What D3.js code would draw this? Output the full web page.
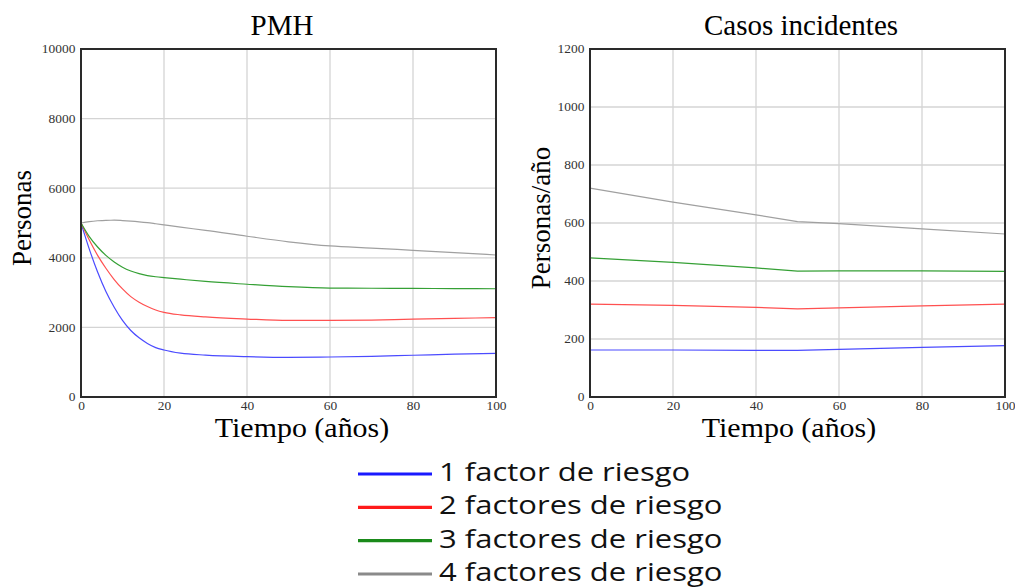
<!DOCTYPE html>
<html>
<head>
<meta charset="utf-8">
<script src="https://cdn.jsdelivr.net/npm/d3@7"></script>
<style>
  body { margin: 0; background: #fff; }
  svg { display: block; }
</style>
</head>
<body>
<svg id="chart" width="1015" height="588"></svg>
<script>
// PMH (left) - shared time points
const pmhYears = [0, 2, 4, 6, 8, 10, 12, 14, 16, 18, 20, 24, 30, 40, 50, 60, 70, 80, 90, 100];
const pmh1 = [5000, 4250, 3590, 3030, 2580, 2200, 1910, 1700, 1540, 1420, 1350, 1260, 1205, 1160, 1140, 1150, 1170, 1200, 1230, 1255];
const pmh2 = [5000, 4510, 4070, 3700, 3375, 3105, 2885, 2725, 2600, 2500, 2433, 2360, 2300, 2240, 2200, 2200, 2210, 2240, 2260, 2280];
const pmh3 = [5000, 4610, 4310, 4070, 3880, 3730, 3622, 3545, 3490, 3455, 3430, 3385, 3320, 3240, 3170, 3130, 3125, 3120, 3115, 3110];
const pmh4 = [5000, 5040, 5065, 5078, 5080, 5070, 5055, 5035, 5010, 4978, 4945, 4880, 4790, 4620, 4460, 4340, 4280, 4215, 4150, 4080];

// Casos incidentes (right)
const casYears = [0, 20, 40, 50, 60, 80, 100];
const cas1 = [162, 162, 161, 161, 164, 171, 177];
const cas2 = [320, 316, 309, 304, 307, 314, 320];
const cas3 = [480, 464, 445, 434, 435, 435, 433];
const cas4 = [720, 672, 628, 605, 598, 580, 562];

const seriesNames = ['1 factor de riesgo', '2 factores de riesgo', '3 factores de riesgo', '4 factores de riesgo'];
const lineColors = ['#4b4bff', '#ff5050', '#35a035', '#a0a0a0'];
const legendColors = ['#1a1aff', '#ff1a1a', '#1a8a1a', '#8a8a8a'];

const xTicks = [0, 20, 40, 60, 80, 100];
const pmhTicks = [0, 2000, 4000, 6000, 8000, 10000];
const casTicks = [0, 200, 400, 600, 800, 1000, 1200];

const svg = d3.select('#chart');
const serif = '"Liberation Serif", "Times New Roman", serif';

function makePanel(p) {
  const top = 49;
  const bottom = 397;
  const { left, right } = p;

  const x = d3.scaleLinear().domain([0, 100]).range([left, right]);
  const y = d3.scaleLinear().domain([0, p.yMax]).range([bottom, top]);

  const g = svg.append('g');

  // grid
  g.append('g')
    .selectAll('line')
    .data(xTicks.slice(1, -1))
    .join('line')
    .attr('x1', (d) => x(d)).attr('x2', (d) => x(d))
    .attr('y1', top).attr('y2', bottom)
    .attr('stroke', '#d4d4d4')
    .attr('stroke-width', 1.3);

  g.append('g')
    .selectAll('line')
    .data(p.yTicks.slice(1, -1))
    .join('line')
    .attr('x1', left).attr('x2', right)
    .attr('y1', (d) => y(d)).attr('y2', (d) => y(d))
    .attr('stroke', '#d4d4d4')
    .attr('stroke-width', 1.3);

  // lines
  const line = d3.line()
    .x((d) => x(d[0]))
    .y((d) => y(d[1]))
    .curve(p.curve);

  p.series.forEach((vals, i) => {
    g.append('path')
      .datum(p.years.map((t, j) => [t, vals[j]]))
      .attr('fill', 'none')
      .attr('stroke', lineColors[i])
      .attr('stroke-width', 1.2)
      .attr('d', line);
  });

  // frame
  g.append('rect')
    .attr('x', left).attr('y', top)
    .attr('width', right - left).attr('height', bottom - top)
    .attr('fill', 'none')
    .attr('stroke', '#2a2a2a')
    .attr('stroke-width', 2);

  // axes
  const xAxis = g.append('g')
    .attr('transform', `translate(0,${bottom})`)
    .call(d3.axisBottom(x).tickValues(xTicks).tickSize(0).tickPadding(4));
  const yAxis = g.append('g')
    .attr('transform', `translate(${left},0)`)
    .call(d3.axisLeft(y).tickValues(p.yTicks).tickSize(0).tickPadding(5).tickFormat(d3.format('d')));
  [xAxis, yAxis].forEach((a) => {
    a.select('.domain').remove();
    a.selectAll('text')
      .style('font-family', serif)
      .style('font-size', '12px')
      .attr('transform', 'scale(1.12,1)')
      .attr('fill', '#333');
  });

  // titles
  g.append('text')
    .attr('x', p.titleX)
    .attr('y', 35)
    .attr('text-anchor', 'middle')
    .style('font-family', serif)
    .style('font-size', '29px')
    .text(p.title);

  g.append('text')
    .attr('transform', `translate(${p.xTitleX},437) scale(1.07,1)`)
    .attr('text-anchor', 'middle')
    .style('font-family', serif)
    .style('font-size', '28px')
    .text('Tiempo (años)');

  g.append('text')
    .attr('transform', `translate(${p.yTitleX},218) rotate(-90)`)
    .attr('text-anchor', 'middle')
    .style('font-family', serif)
    .style('font-size', '27px')
    .text(p.yTitle);
}

makePanel({
  left: 81, right: 496, years: pmhYears, series: [pmh1, pmh2, pmh3, pmh4],
  yMax: 10000, yTicks: pmhTicks, curve: d3.curveMonotoneX,
  title: 'PMH', titleX: 282, xTitleX: 302, yTitle: 'Personas', yTitleX: 31,
});
makePanel({
  left: 590, right: 1005, years: casYears, series: [cas1, cas2, cas3, cas4],
  yMax: 1200, yTicks: casTicks, curve: d3.curveLinear,
  title: 'Casos incidentes', titleX: 801, xTitleX: 789, yTitle: 'Personas/año', yTitleX: 550,
});

// legend
const legend = svg.append('g');
const rowY = d3.scaleLinear().domain([0, 3]).range([474, 574]);
seriesNames.forEach((name, i) => {
  legend.append('line')
    .attr('x1', 358).attr('x2', 432)
    .attr('y1', rowY(i)).attr('y2', rowY(i))
    .attr('stroke', legendColors[i])
    .attr('stroke-width', 3.2);
  legend.append('text')
    .attr('transform', `translate(439,${rowY(i) + 7}) scale(1.24,1)`)
    .style('font-family', '"Open Sans", sans-serif')
    .style('font-size', '25px')
    .attr('fill', '#111')
    .text(name);
});
</script>
</body>
</html>
